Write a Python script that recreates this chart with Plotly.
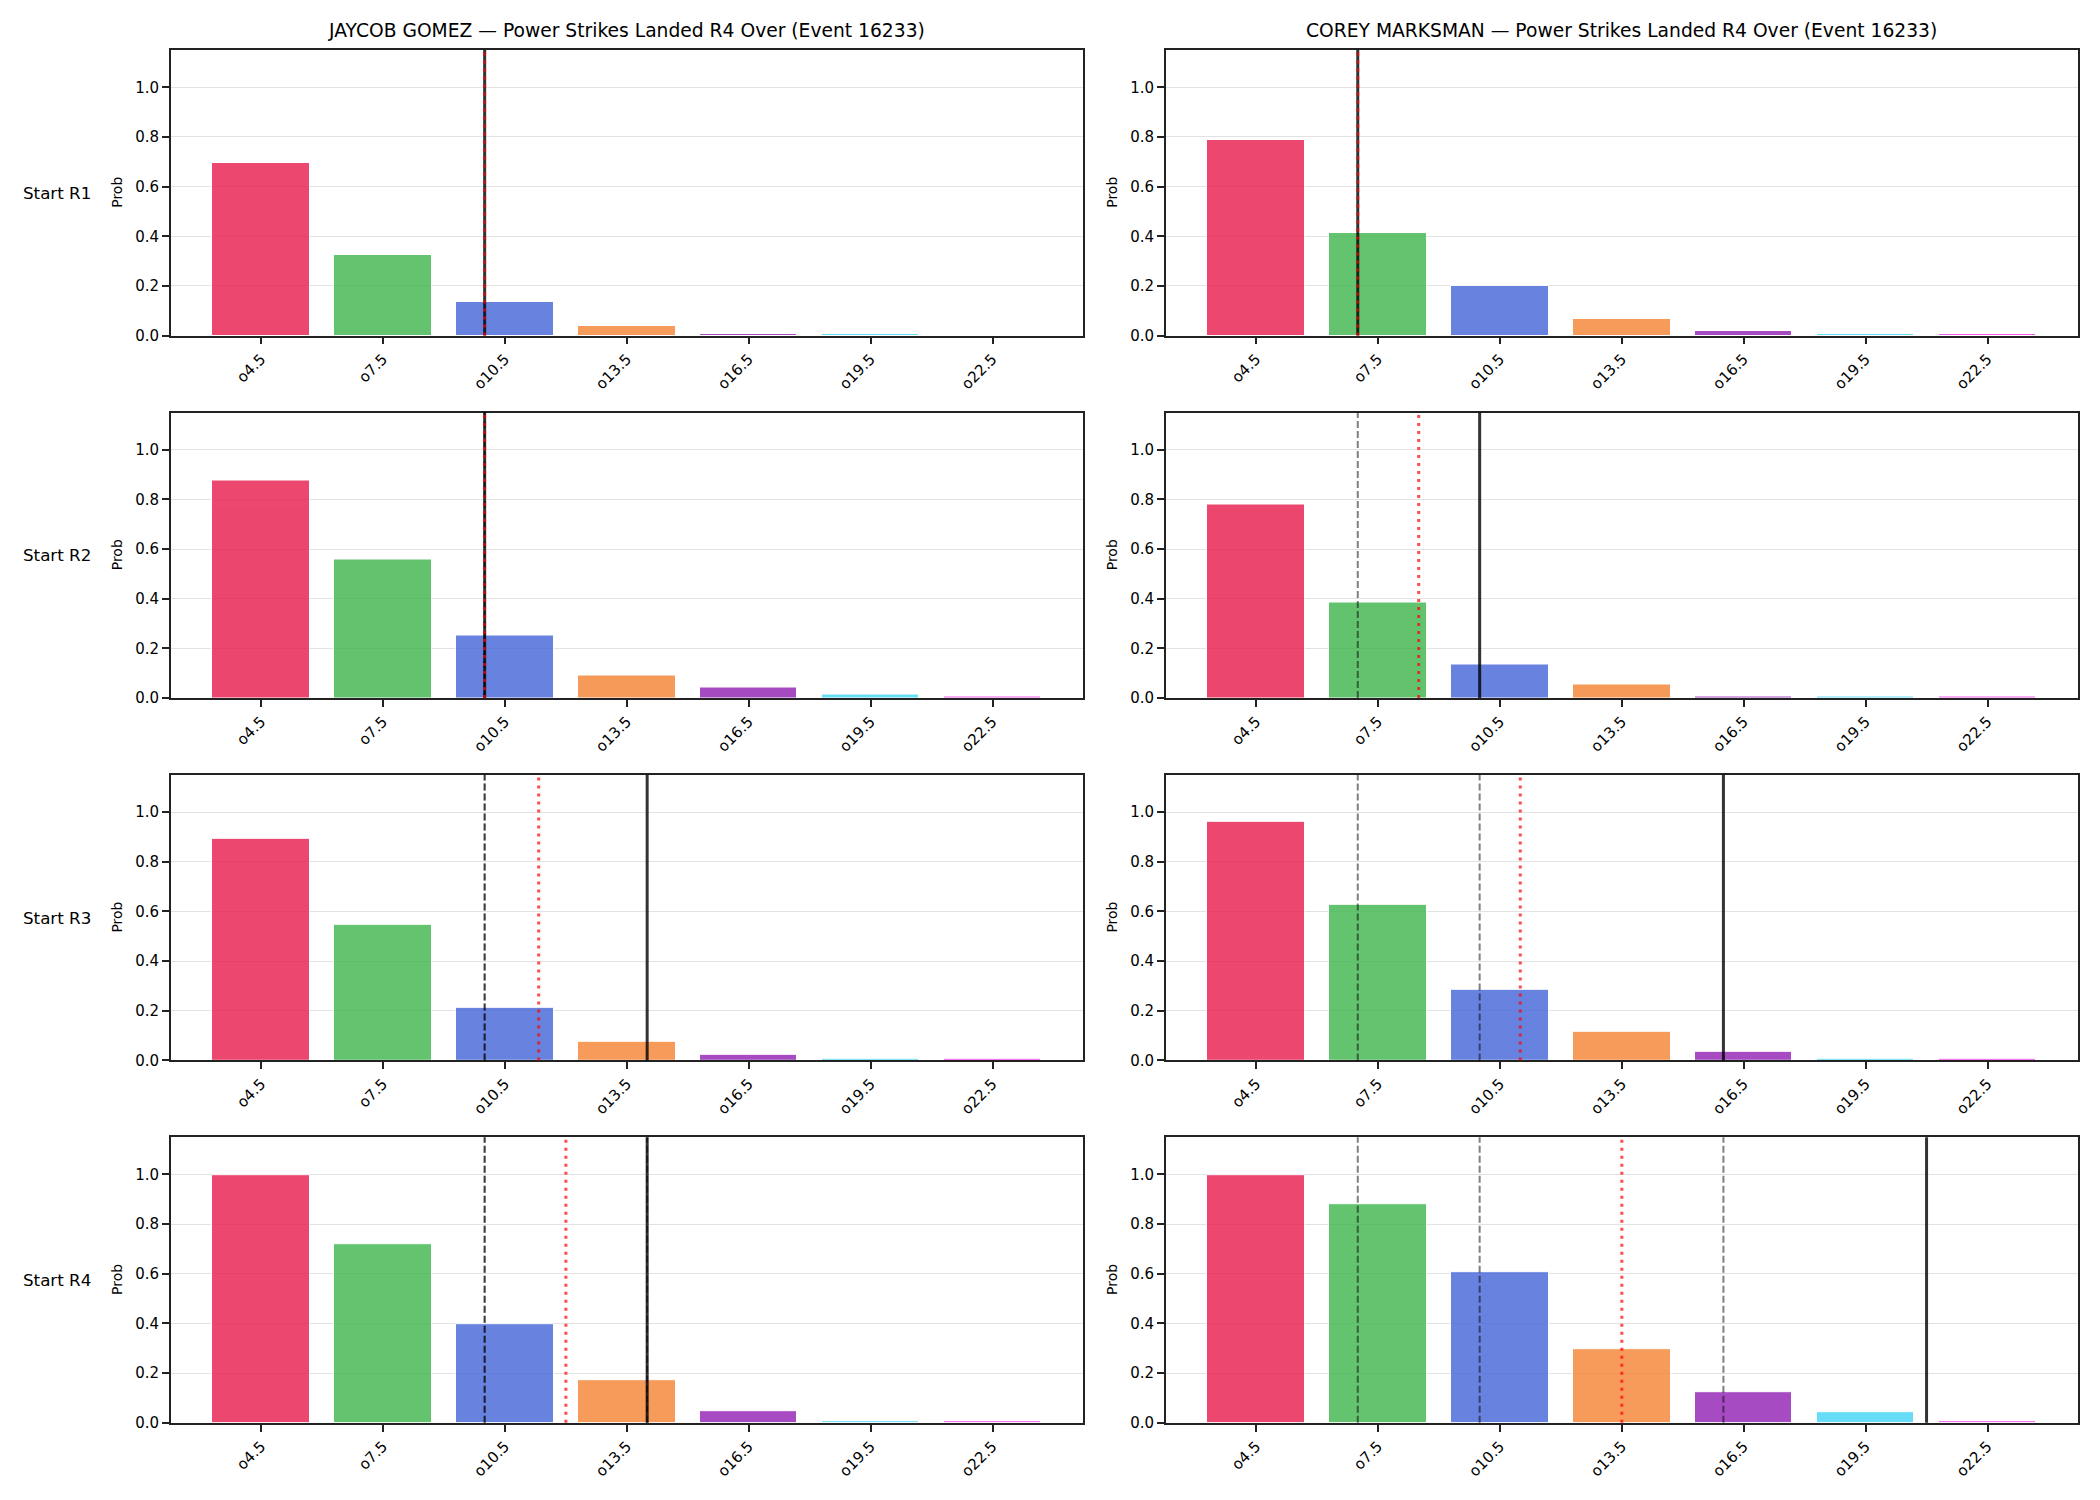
import plotly.graph_objects as go

# ---------------- data ----------------
labels = ["o4.5", "o7.5", "o10.5", "o13.5", "o16.5", "o19.5", "o22.5"]
line_values = [4.5, 7.5, 10.5, 13.5, 16.5, 19.5, 22.5]
round_labels = ["Start R1", "Start R2", "Start R3", "Start R4"]
fighters = ["JAYCOB GOMEZ", "COREY MARKSMAN"]
title_suffix = " — Power Strikes Landed R4 Over (Event 16233)"

gomez_r1 = [0.693, 0.325, 0.136, 0.040, 0.008, 0.006, 0.001]
gomez_r2 = [0.876, 0.560, 0.252, 0.090, 0.042, 0.013, 0.005]
gomez_r3 = [0.894, 0.546, 0.212, 0.075, 0.023, 0.005, 0.006]
gomez_r4 = [0.997, 0.718, 0.399, 0.173, 0.047, 0.005, 0.005]

marksman_r1 = [0.788, 0.413, 0.200, 0.067, 0.019, 0.007, 0.007]
marksman_r2 = [0.779, 0.383, 0.135, 0.054, 0.008, 0.005, 0.005]
marksman_r3 = [0.961, 0.627, 0.285, 0.115, 0.035, 0.005, 0.005]
marksman_r4 = [0.997, 0.880, 0.605, 0.298, 0.124, 0.043, 0.005]

# strikes landed at start of each round (solid) and pace marker (dotted)
gomez_start = [10, 10, 14, 14]
gomez_pace = [10, 10, 11.33, 12]
marksman_start = [7, 10, 16, 21]
marksman_pace = [7, 8.5, 11, 13.5]

colors = ["#e6194b", "#3cb44b", "#4363d8", "#f58231", "#911eb4", "#42d4f4", "#f032e6"]

probs = [[gomez_r1, gomez_r2, gomez_r3, gomez_r4],
         [marksman_r1, marksman_r2, marksman_r3, marksman_r4]]
starts = [gomez_start, marksman_start]
paces = [gomez_pace, marksman_pace]

# ---------------- layout constants ----------------
W, H = 2100, 1500
col_px = [(171.0, 1082.7), (1166.0, 2077.7)]
row_top = [50.0, 412.5, 774.8, 1137.2]
row_h = 285.6
FONT = "DejaVu Sans"
AX = "#222222"

fig = go.Figure()
layout = dict(width=W, height=H, margin=dict(l=0, r=0, t=0, b=0),
              paper_bgcolor="white", plot_bgcolor="white",
              showlegend=False, bargap=0, font=dict(family=FONT, color="black"))
shapes = []
annotations = []

step = line_values[1] - line_values[0]
xr = [line_values[0] - 0.74 * step, line_values[-1] + 0.74 * step]

for r in range(4):
    for c in range(2):
        n = r * 2 + c + 1
        xa = "x" if n == 1 else f"x{n}"
        ya = "y" if n == 1 else f"y{n}"
        xkey = "xaxis" if n == 1 else f"xaxis{n}"
        ykey = "yaxis" if n == 1 else f"yaxis{n}"
        x0p, x1p = col_px[c]
        top = row_top[r]
        layout[xkey] = dict(
            domain=[x0p / W, x1p / W], anchor=ya, range=xr,
            tickmode="array", tickvals=line_values, ticktext=labels,
            tickangle=-45, ticks="outside", ticklen=7, tickwidth=1.7, tickcolor=AX,
            tickfont=dict(family=FONT, size=15, color="black"),
            showline=True, linecolor=AX, linewidth=1.7, mirror=True,
            showgrid=False, zeroline=False, automargin=False, fixedrange=True)
        layout[ykey] = dict(
            domain=[1 - (top + row_h) / H, 1 - top / H], anchor=xa, range=[0, 1.15],
            tickmode="array", tickvals=[0, 0.2, 0.4, 0.6, 0.8, 1.0], tickformat=".1f",
            ticks="outside", ticklen=7, tickwidth=1.7, tickcolor=AX,
            tickfont=dict(family=FONT, size=15, color="black"),
            showline=True, linecolor=AX, linewidth=1.7, mirror=True,
            showgrid=True, gridcolor="#e3e3e3", gridwidth=1,
            zeroline=False, automargin=False, fixedrange=True)

        fig.add_trace(go.Bar(
            x=line_values, y=probs[c][r], width=0.8 * step,
            marker=dict(color=colors, opacity=0.8, line=dict(color="white", width=1)),
            xaxis=xa, yaxis=ya, hoverinfo="x+y"))

        ydom = f"{ya} domain"
        # previous rounds' starts (dashed)
        for prev in starts[c][:r]:
            shapes.append(dict(type="line", xref=xa, yref=ydom, x0=prev, x1=prev, y0=0, y1=1,
                               line=dict(color="rgba(0,0,0,0.5)", width=2, dash="7px,3px"),
                               layer="above"))
        # current start (solid)
        s = starts[c][r]
        shapes.append(dict(type="line", xref=xa, yref=ydom, x0=s, x1=s, y0=0, y1=1,
                           line=dict(color="rgba(0,0,0,0.8)", width=3), layer="above"))
        # pace (red dotted)
        p = paces[c][r]
        shapes.append(dict(type="line", xref=xa, yref=ydom, x0=p, x1=p, y0=0, y1=1,
                           line=dict(color="rgba(255,0,0,0.7)", width=3, dash="3px,5px"),
                           layer="above"))

        # Prob label
        annotations.append(dict(
            text="Prob", xref="paper", yref="paper",
            x=(x0p - 54) / W, y=1 - (top + row_h / 2) / H,
            xanchor="center", yanchor="middle", textangle=-90, showarrow=False,
            font=dict(family=FONT, size=14, color="black")))

    # Row label
    annotations.append(dict(
        text=round_labels[r], xref="paper", yref="paper",
        x=57 / W, y=1 - (row_top[r] + row_h / 2) / H,
        xanchor="center", yanchor="middle", showarrow=False,
        font=dict(family=FONT, size=16.7, color="black")))

for c in range(2):
    x0p, x1p = col_px[c]
    annotations.append(dict(
        text=fighters[c] + title_suffix, xref="paper", yref="paper",
        x=(x0p + x1p) / 2 / W, y=1 - 31 / H,
        xanchor="center", yanchor="middle", showarrow=False,
        font=dict(family=FONT, size=18.7, color="black")))

layout["shapes"] = shapes
layout["annotations"] = annotations
fig.update_layout(**layout)

fig.write_html("out.html")
